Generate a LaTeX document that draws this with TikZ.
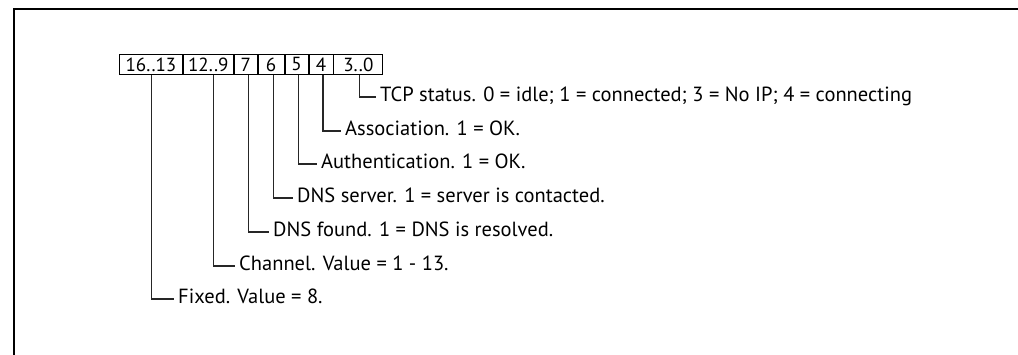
\documentclass[tikz,border=0pt]{standalone}
\usepackage{fontspec}
\setmainfont{PT Sans}
\begin{document}
\begin{tikzpicture}[x=1pt,y=-1pt,
  txt/.style={font=\fontsize{20.5}{24}\selectfont},
  conn/.style={line width=1.1pt, black!85},
  cell/.style={draw, line width=0.9pt, font=\fontsize{19}{22}\selectfont, minimum height=20pt, inner sep=0pt, anchor=north west},
  lbl/.style={txt, anchor=west, inner sep=0pt, text height=14pt, text depth=4pt}]
\useasboundingbox (0,0) rectangle (1018,355);
\draw[line width=2.5pt] (14,355) -- (14,9) -- (1018,9);
% register cells
\node[cell, minimum width=63pt] (c1) at (119,54) {16..13};
\node[cell, minimum width=50pt] (c2) at (c1.north east) {12..9};
\node[cell, minimum width=23pt] (c3) at (c2.north east) {7};
\node[cell, minimum width=26pt] (c4) at (c3.north east) {6};
\node[cell, minimum width=23pt] (c5) at (c4.north east) {5};
\node[cell, minimum width=24pt] (c6) at (c5.north east) {4};
\node[cell, minimum width=49pt] (c7) at (c6.north east) {3..0};
% labels
\node[lbl] (l7) at (380,97) {TCP status. 0 = idle; 1 = connected; 3 = No IP; 4 = connecting};
\node[lbl] (l6) at (345,131) {Association. 1 = OK.};
\node[lbl] (l5) at (321,164) {Authentication. 1 = OK.};
\node[lbl] (l4) at (297,198) {DNS server. 1 = server is contacted.};
\node[lbl] (l3) at (273,232) {DNS found. 1 = DNS is resolved.};
\node[lbl] (l2) at (239,266) {Channel. Value = 1 - 13.};
\node[lbl] (l1) at (178,299) {Fixed. Value = 8.};
% connectors
\draw[conn] ([xshift=1.5pt]c7.south) |- ([xshift=-4pt]l7.west);
\draw[conn] ([xshift=2pt]c6.south) |- ([xshift=-4pt]l6.west);
\draw[conn] ([xshift=1.5pt]c5.south) |- ([xshift=-4pt]l5.west);
\draw[conn] ([xshift=2pt]c4.south) |- ([xshift=-4pt]l4.west);
\draw[conn] ([xshift=2.5pt]c3.south) |- ([xshift=-4pt]l3.west);
\draw[conn] ([xshift=5pt]c2.south) |- ([xshift=-4pt]l2.west);
\draw[conn] ([xshift=0.5pt]c1.south) |- ([xshift=-4pt]l1.west);
\end{tikzpicture}
\end{document}
